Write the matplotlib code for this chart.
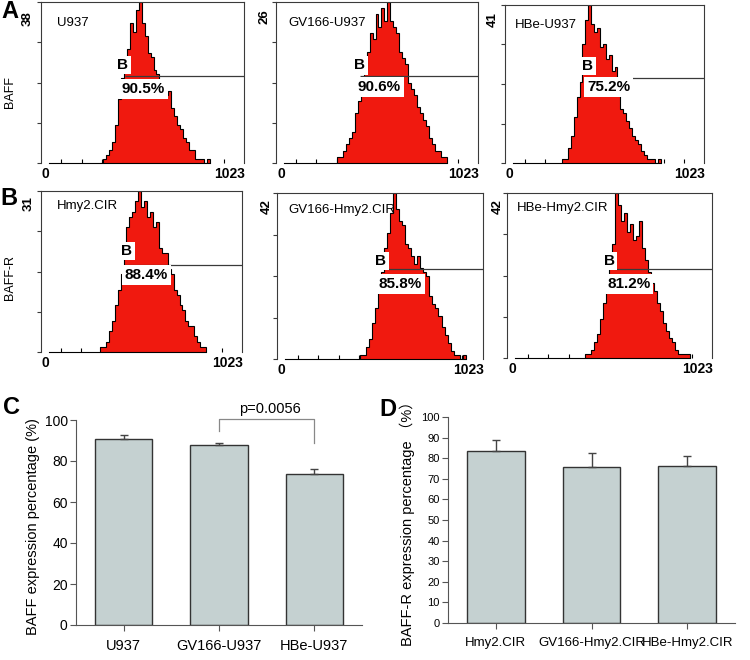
import numpy as np
import matplotlib
matplotlib.use('Agg')
import matplotlib.pyplot as plt

plt.rcParams['font.family'] = ['Liberation Sans', 'DejaVu Sans']

# ---------------- data ----------------
hist_names = ['U937', 'GV166-U937', 'HBe-U937',
              'Hmy2.CIR', 'GV166-Hmy2.CIR', 'HBe-Hmy2.CIR']
hist_ymax = [38, 26, 41, 31, 42, 42]
hist_pct = ['90.5%', '90.6%', '75.2%', '88.4%', '85.8%', '81.2%']
hist_start = [297, 309, 293, 300, 412, 389]   # first channel with events
bin_width = 15                                 # channels per bin
gate_x = [423, 425, 421, 427, 546, 539]        # gate B start channel
gate_y = [20.5, 14.0, 22.1, 16.75, 22.8, 22.65]

counts_U937 = [0, 1, 2, 3, 5, 9, 15, 20, 22, 27, 33, 31, 36, 38, 33, 30, 26, 25, 22,
               21, 18, 19, 16, 17, 13, 11, 9, 8, 6, 5, 3, 3, 1, 1, 1, 0, 1]
counts_GV166_U937 = [1, 1, 2, 3, 4, 5, 8, 10, 13, 15, 18, 21, 20, 24, 22, 25, 23, 26, 23,
                     22, 21, 18, 17, 16, 13, 12, 11, 9, 8, 7, 6, 4, 3, 2, 2, 1, 1]
counts_HBe_U937 = [1, 1, 4, 7, 12, 17, 21, 31, 37, 41, 36, 34, 35, 30, 31, 27, 28, 24, 25,
                   19, 14, 13, 11, 9, 7, 6, 5, 3, 2, 1, 1, 1, 0, 1]
counts_Hmy2 = [1, 1, 2, 4, 6, 9, 12, 15, 20, 24, 26, 27, 29, 31, 28, 29, 26, 27, 24,
               25, 20, 19, 19, 16, 15, 12, 11, 9, 8, 6, 5, 5, 3, 2, 1, 1]
counts_GV166_Hmy2 = [1, 1, 3, 5, 9, 13, 17, 22, 28, 32, 37, 42, 38, 35, 34, 29, 28, 26, 24,
                     26, 23, 22, 21, 16, 14, 13, 11, 8, 6, 4, 2, 1, 1, 0, 1]
counts_HBe_Hmy2 = [1, 1, 2, 4, 6, 10, 14, 18, 24, 29, 42, 39, 35, 37, 32, 34, 30, 31, 35,
                   28, 25, 22, 19, 17, 14, 12, 9, 7, 5, 4, 2, 1, 1, 1, 1]
hist_counts = [counts_U937, counts_GV166_U937, counts_HBe_U937,
               counts_Hmy2, counts_GV166_Hmy2, counts_HBe_Hmy2]

baff_cells = ['U937', 'GV166-U937', 'HBe-U937']
baff_mean = [90.7, 88.0, 73.8]
baff_err = [2.0, 0.6, 2.5]
baff_yticks = [0, 20, 40, 60, 80, 100]
p_text = 'p=0.0056'
p_pair = (1, 2)
p_levels = (100.5, 94.6, 88.8)   # bracket top, left foot, right foot

baffr_cells = ['Hmy2.CIR', 'GV166-Hmy2.CIR', 'HBe-Hmy2.CIR']
baffr_mean = [83.5, 75.5, 76.3]
baffr_err = [5.2, 6.9, 5.0]
baffr_yticks = [0, 10, 20, 30, 40, 50, 60, 70, 80, 90, 100]

# ---------------- layout (pixels) ----------------
W, H = 750, 660
fig = plt.figure(figsize=(7.5, 6.6), dpi=100)


def px_axes(left, top, w, h):
    return fig.add_axes([left / W, 1 - (top + h) / H, w / W, h / H])


hist_boxes = [(41, 2, 203, 161), (276, 2, 202, 161), (505, 5, 199, 158),
              (41, 191, 201, 161), (277, 193, 206, 166), (507, 193, 205, 165)]
ymax_off = [(-13, -17), (-11, -15), (-12, -15), (-12, -13), (-10, -14), (-9, -14)]
name_off = [(16, -21), (12, -21), (10, -20), (16, -15), (11, -17), (10, -15)]
b_off = [(-2, 4), (0, 4), (1, 5), (2, 7), (-6, 1), (-6, 1)]
pct_off = [(-3, -6), (-2, -4), (0, -2), (0, -3), (-8, -8), (-8, -8)]

RED = '#f0190f'
EDGE = '#3a3a3a'

for i in range(6):
    ax = px_axes(*hist_boxes[i])
    c = np.array(hist_counts[i], dtype=float)
    edges = hist_start[i] + bin_width * np.arange(len(c) + 1)
    ax.stairs(c, edges, fill=True, color=RED, zorder=2)
    ax.stairs(c, edges, color='black', lw=0.8, zorder=2.5)
    ax.set_xlim(0, 1023)
    ax.set_ylim(0, hist_ymax[i])
    for s in ['top', 'right', 'left']:
        ax.spines[s].set_color(EDGE)
        ax.spines[s].set_linewidth(0.8)
    ax.spines['bottom'].set_bounds(40, edges[-1])
    ax.spines['bottom'].set_color('black')
    ax.spines['bottom'].set_linewidth(0.8)
    ax.set_yticks(np.linspace(0, hist_ymax[i], 5))
    ax.set_xticks(np.arange(1, 10) * 102.3)
    ax.tick_params(axis='y', direction='out', length=3, width=0.8, color=EDGE,
                   labelleft=False)
    ax.tick_params(axis='x', direction='in', length=3, width=0.8, color='black',
                   labelbottom=False)
    # gate
    ax.hlines(gate_y[i], gate_x[i], 1023, color=EDGE, lw=0.9, zorder=3)
    ax.annotate('B', xy=(gate_x[i], gate_y[i]), xytext=b_off[i],
                textcoords='offset pixels', ha='center', va='bottom',
                fontsize=11, fontweight='bold', zorder=4,
                bbox=dict(boxstyle='square,pad=0.15', fc='white', ec='none'))
    ax.annotate(hist_pct[i], xy=(gate_x[i], gate_y[i]), xytext=pct_off[i],
                textcoords='offset pixels', ha='left', va='top',
                fontsize=11, fontweight='bold', zorder=4,
                bbox=dict(boxstyle='square,pad=0.2', fc='white', ec='none'))
    ax.annotate(str(hist_ymax[i]), xy=(0, 1), xycoords='axes fraction',
                xytext=ymax_off[i], textcoords='offset pixels', rotation=90,
                ha='center', va='center', fontsize=9.5, fontweight='bold')
    ax.annotate(hist_names[i], xy=(0, 1), xycoords='axes fraction',
                xytext=name_off[i], textcoords='offset pixels',
                ha='left', va='center', fontsize=9.5)
    ax.annotate('0', xy=(0, 0), xycoords='axes fraction', xytext=(1, -4),
                textcoords='offset pixels', ha='left', va='top',
                fontsize=10, fontweight='bold')
    ax.annotate('1023', xy=(1, 0), xycoords='axes fraction', xytext=(1, -4),
                textcoords='offset pixels', ha='right', va='top',
                fontsize=10, fontweight='bold')

# row / panel labels
fig.text(10 / W, 1 - 92 / H, 'BAFF', rotation=90, ha='center', va='center', fontsize=9)
fig.text(10 / W, 1 - 277 / H, 'BAFF-R', rotation=90, ha='center', va='center', fontsize=9)
for lab, (x, y) in zip('ABCD', [(10, 12), (9, 198), (11, 407), (388, 409)]):
    fig.text(x / W, 1 - y / H, lab, ha='center', va='center', fontsize=17,
             fontweight='bold')

BAR = '#c5d1d1'
AXC = '#555555'


def bar_panel(box, cells, mean, err, yticks, tick_fs, label, lab_pos, xfs):
    ax = px_axes(*box)
    x = np.arange(len(cells))
    ax.bar(x, mean, width=0.6, color=BAR, edgecolor='#333333', linewidth=1.0,
           zorder=2)
    ax.errorbar(x, mean, yerr=[np.zeros(len(err)), err], fmt='none',
                ecolor='#444444', elinewidth=1.0, capsize=3, capthick=1.0, zorder=3)
    ax.set_xlim(-0.5, len(cells) - 0.5)
    ax.set_ylim(0, 100)
    ax.set_yticks(yticks)
    ax.set_xticks(x)
    ax.set_xticklabels(cells, fontsize=xfs)
    ax.tick_params(axis='y', labelsize=tick_fs, length=4, width=0.8, color=AXC, pad=2)
    ax.tick_params(axis='x', length=4, width=0.8, color=AXC, pad=6)
    for s in ['top', 'right']:
        ax.spines[s].set_visible(False)
    for s in ['left', 'bottom']:
        ax.spines[s].set_color(AXC)
        ax.spines[s].set_linewidth(0.8)
    ax.text(lab_pos[0], lab_pos[1], label, transform=ax.transAxes, rotation=90,
            ha='center', va='center', fontsize=10.5)
    return ax


axC = bar_panel((76, 420, 286, 205), baff_cells, baff_mean, baff_err, baff_yticks,
                10, 'BAFF expression percentage (%)', (-0.15, 0.478), 10.5)
i0, i1 = p_pair
axC.plot([i0, i0, i1, i1], [p_levels[1], p_levels[0], p_levels[0], p_levels[2]],
         color='#888888', lw=0.9, clip_on=False)
axC.text((i0 + i1) / 2 + 0.035, p_levels[0] + 1.5, p_text, ha='center',
         va='bottom', fontsize=10.5)

axD = bar_panel((448, 417, 287, 206), baffr_cells, baffr_mean, baffr_err,
                baffr_yticks, 8, 'BAFF-R expression percentage （%）', (-0.143, 0.5), 9.5)
for t in axD.texts:
    t.set_family(['Liberation Sans', 'Noto Sans CJK SC'])

fig.savefig('out.png', dpi=100)
